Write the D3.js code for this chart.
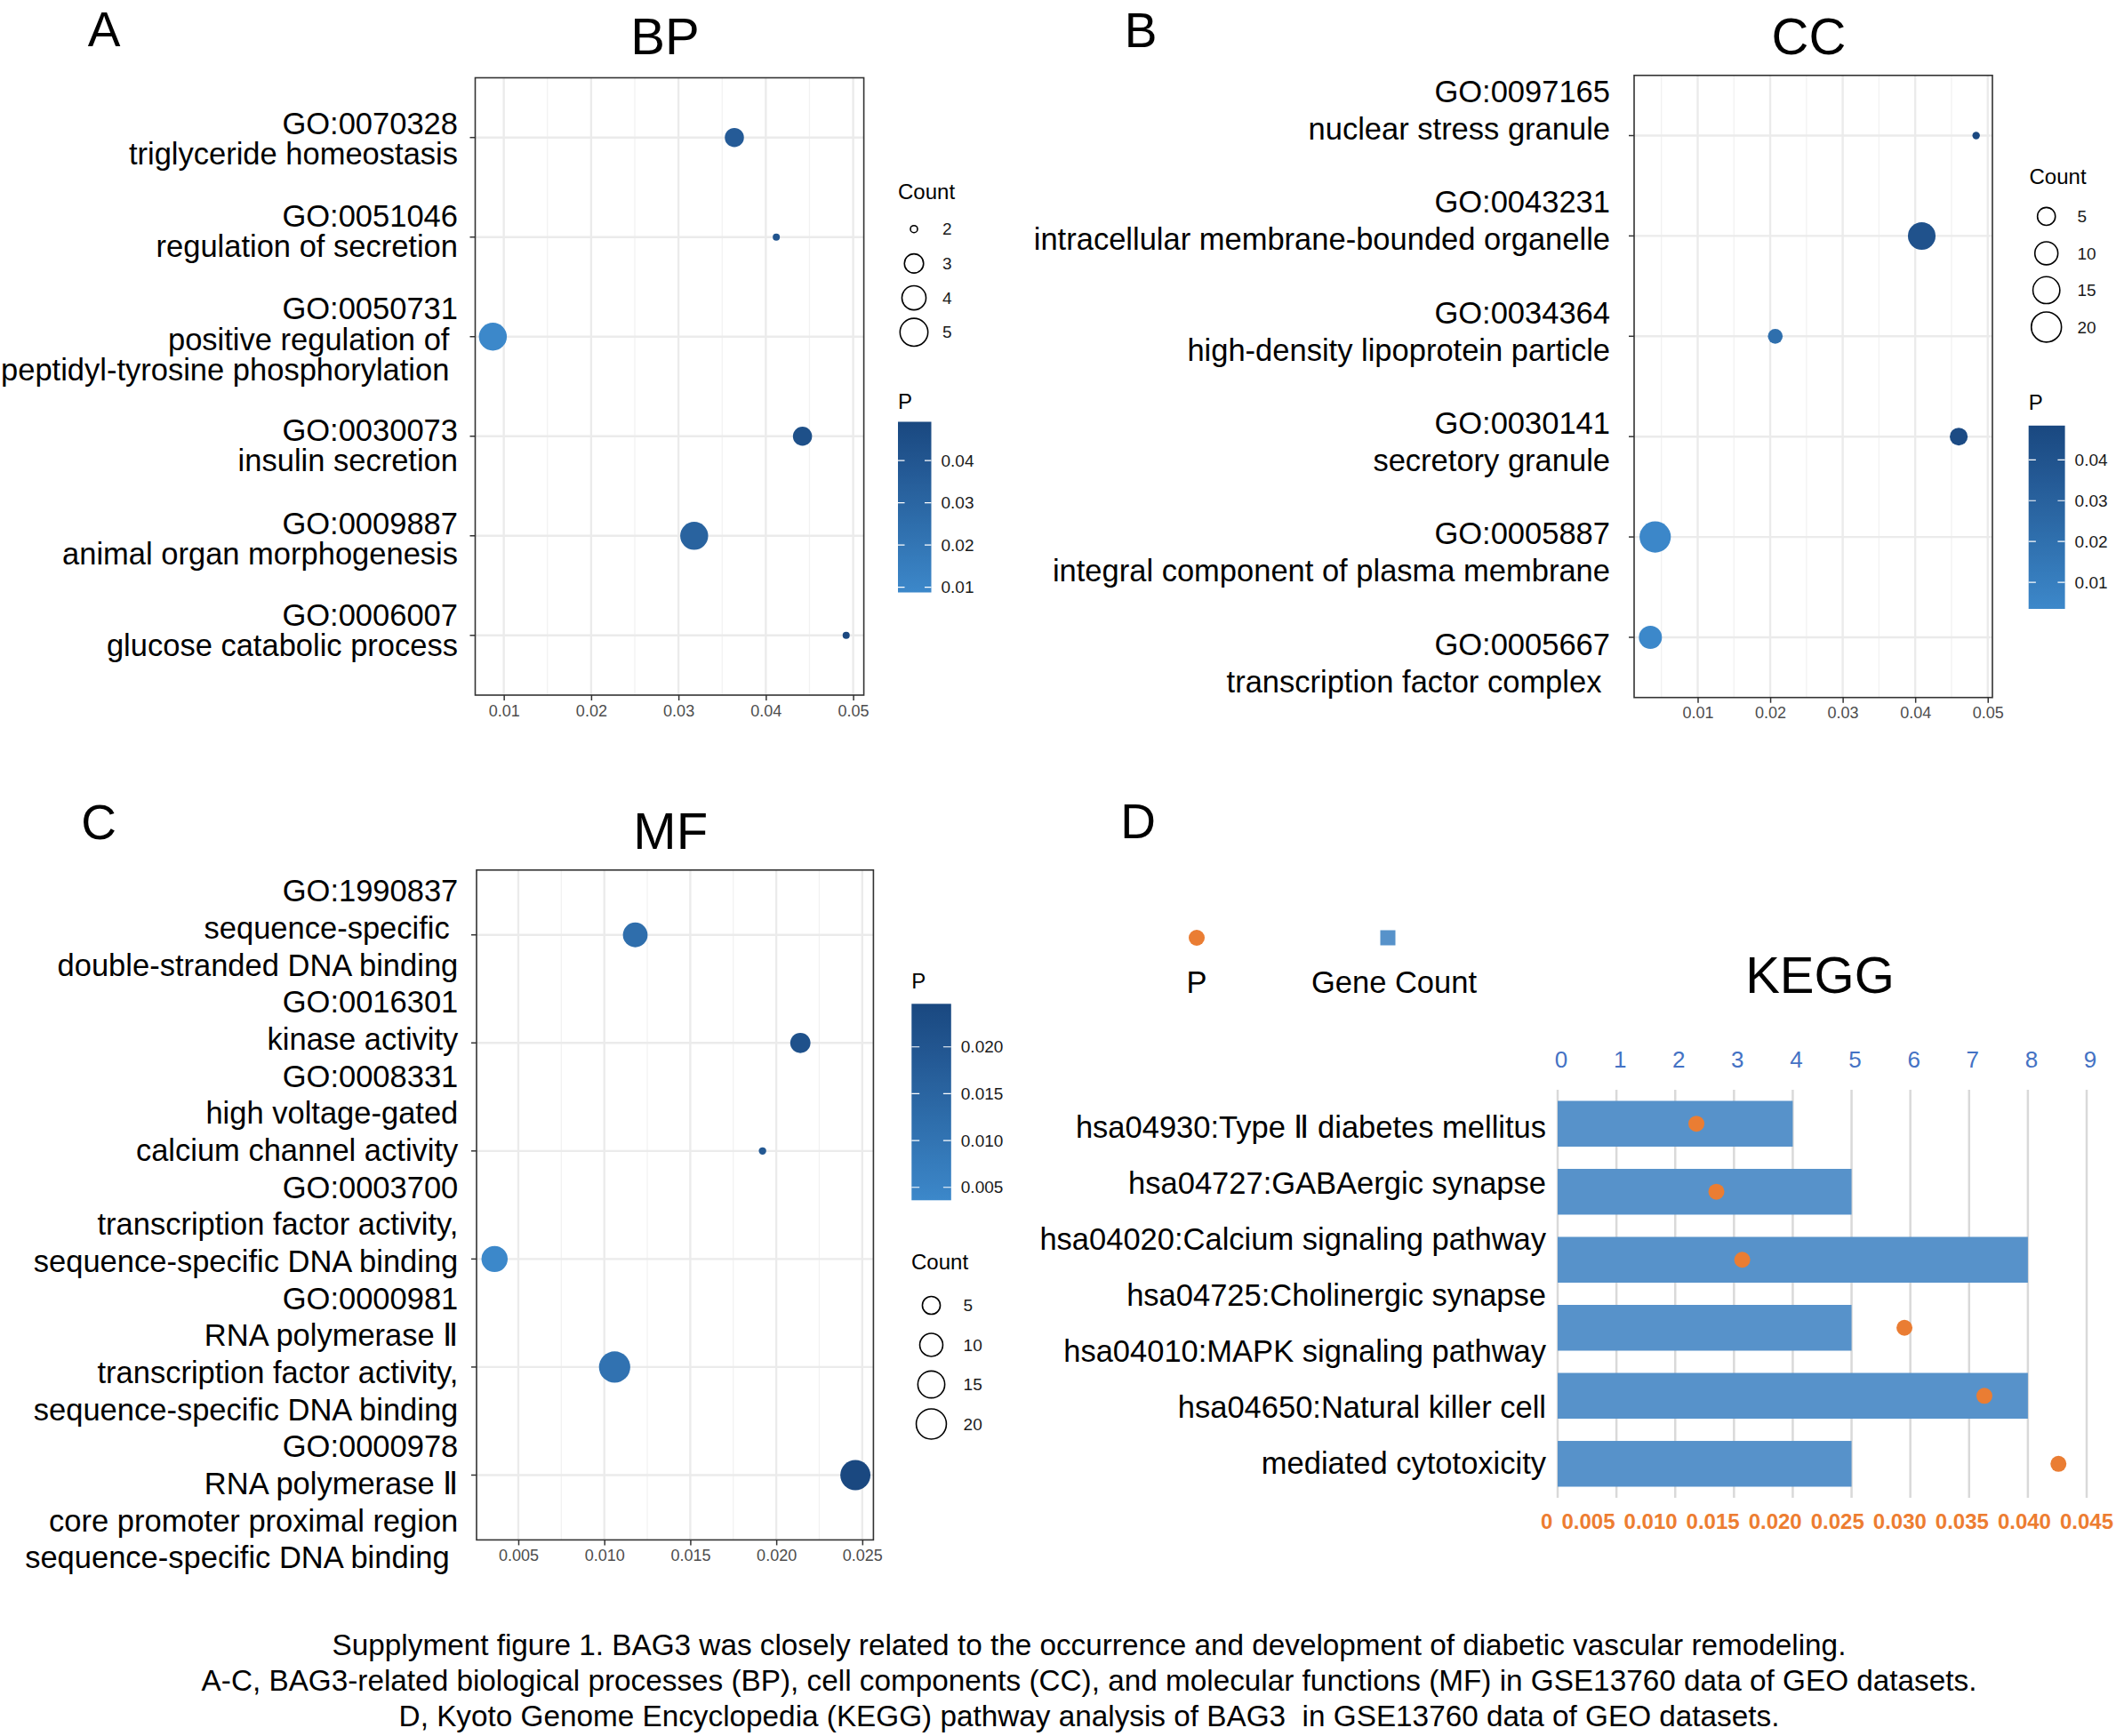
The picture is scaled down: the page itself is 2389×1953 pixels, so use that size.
<!DOCTYPE html>
<html>
<head>
<meta charset="utf-8">
<script src="https://cdn.jsdelivr.net/npm/d3@7"></script>
<style>
  body { margin: 0; background: #fff; }
  text { font-family: "Liberation Sans", Arial, Helvetica, sans-serif; }
</style>
</head>
<body>
<svg id="fig" width="2389" height="1953"></svg>
<script>
// ---------------- data ----------------
const bpLabels = [
  ["GO:0070328", "triglyceride homeostasis"],
  ["GO:0051046", "regulation of secretion"],
  ["GO:0050731", "positive regulation of ", "peptidyl-tyrosine phosphorylation "],
  ["GO:0030073", "insulin secretion"],
  ["GO:0009887", "animal organ morphogenesis"],
  ["GO:0006007", "glucose catabolic process"]
];
const bpP = [0.0364, 0.0412, 0.00875, 0.0442, 0.0318, 0.0492];
const bpCount = [3, 2, 5, 3, 5, 2];

const ccLabels = [
  ["GO:0097165", "nuclear stress granule"],
  ["GO:0043231", "intracellular membrane-bounded organelle"],
  ["GO:0034364", "high-density lipoprotein particle"],
  ["GO:0030141", "secretory granule"],
  ["GO:0005887", "integral component of plasma membrane"],
  ["GO:0005667", "transcription factor complex "]
];
const ccP = [0.0484, 0.0409, 0.0207, 0.046, 0.00414, 0.00348];
const ccCount = [1, 16, 3, 5, 22, 10];

const mfLabels = [
  ["GO:1990837", "sequence-specific ", "double-stranded DNA binding"],
  ["GO:0016301", "kinase activity"],
  ["GO:0008331", "high voltage-gated", "calcium channel activity"],
  ["GO:0003700", "transcription factor activity,", "sequence-specific DNA binding"],
  ["GO:0000981", "RNA polymerase \u2161", "transcription factor activity,", "sequence-specific DNA binding"],
  ["GO:0000978", "RNA polymerase \u2161", "core promoter proximal region", "sequence-specific DNA binding "]
];
const mfP = [0.0118, 0.0214, 0.0192, 0.00362, 0.0106, 0.0246];
const mfCount = [12, 7, 1, 14, 22, 20];

const keggPathways = [
  "hsa04930:Type \u2161 diabetes mellitus",
  "hsa04727:GABAergic synapse",
  "hsa04020:Calcium signaling pathway",
  "hsa04725:Cholinergic synapse",
  "hsa04010:MAPK signaling pathway",
  "hsa04650:Natural killer cell mediated cytotoxicity"
];
// axis text as it is wrapped in the figure (7 lines for 6 bars)
const keggAxisLines = [
  "hsa04930:Type \u2161 diabetes mellitus",
  "hsa04727:GABAergic synapse",
  "hsa04020:Calcium signaling pathway",
  "hsa04725:Cholinergic synapse",
  "hsa04010:MAPK signaling pathway",
  "hsa04650:Natural killer cell",
  "mediated cytotoxicity"
];
const keggCount = [4, 5, 8, 5, 8, 5];
const keggP = [0.0118, 0.0135, 0.0157, 0.0295, 0.0363, 0.0426];

const caption = [
  "Supplyment figure 1. BAG3 was closely related to the occurrence and development of diabetic vascular remodeling.",
  "A-C, BAG3-related biological processes (BP), cell components (CC), and molecular functions (MF) in GSE13760 data of GEO datasets.",
  "D, Kyoto Genome Encyclopedia (KEGG) pathway analysis of BAG3  in GSE13760 data of GEO datasets."
];

// ---------------- setup ----------------
const svg = d3.select("#fig");
const LOW = "#3c88ca", HIGH = "#1a4880";
const FS = 34.5;

svg.append("rect").attr("width", 2389).attr("height", 1953).attr("fill", "#fff");

function dotPanel(cfg) {
  const g = svg.append("g");
  const n = cfg.labels.length;
  const ext = d3.extent(cfg.p);
  const pad = (ext[1] - ext[0]) * 0.05;
  const x = d3.scaleLinear().domain([ext[0] - pad, ext[1] + pad]).range([cfg.x0, cfg.x1]);
  const y = d3.scalePoint().domain(d3.range(n)).range([cfg.y0, cfg.y1]).padding(0.6);
  const col = d3.scaleLinear().domain(ext).range([LOW, HIGH]).interpolate(d3.interpolateLab);
  const cExt = d3.extent(cfg.count);
  const rs = d3.scaleLinear().domain([0, 1]).range([cfg.rMin, cfg.rMax]);
  const rad = c => rs(Math.sqrt((c - cExt[0]) / (cExt[1] - cExt[0])));

  // grid
  const major = x.ticks(5);
  const step = major[1] - major[0];
  const minor = d3.range(major[0] - step / 2, major[major.length - 1] + step, step)
    .filter(v => v > x.domain()[0] && v < x.domain()[1]);
  g.selectAll(".minor").data(minor).join("line")
    .attr("x1", d => x(d)).attr("x2", d => x(d))
    .attr("y1", cfg.y0).attr("y2", cfg.y1)
    .attr("stroke", "#f2f2f2").attr("stroke-width", 1.3);
  g.selectAll(".major").data(major).join("line")
    .attr("x1", d => x(d)).attr("x2", d => x(d))
    .attr("y1", cfg.y0).attr("y2", cfg.y1)
    .attr("stroke", "#ebebeb").attr("stroke-width", 2.4);
  g.selectAll(".row").data(d3.range(n)).join("line")
    .attr("x1", cfg.x0).attr("x2", cfg.x1)
    .attr("y1", d => y(d)).attr("y2", d => y(d))
    .attr("stroke", "#ebebeb").attr("stroke-width", 2.4);

  // points
  g.selectAll(".pt").data(d3.range(n)).join("circle")
    .attr("cx", i => x(cfg.p[i])).attr("cy", i => y(i))
    .attr("r", i => rad(cfg.count[i]))
    .attr("fill", i => col(cfg.p[i]));

  g.append("rect")
    .attr("x", cfg.x0).attr("y", cfg.y0)
    .attr("width", cfg.x1 - cfg.x0).attr("height", cfg.y1 - cfg.y0)
    .attr("fill", "none").attr("stroke", "#333").attr("stroke-width", 1.6);

  // x axis
  const ax = g.append("g").attr("transform", `translate(0,${cfg.y1})`)
    .call(d3.axisBottom(x).ticks(5).tickSize(6).tickPadding(5));
  ax.select(".domain").remove();
  ax.selectAll("line").attr("stroke", "#333").attr("stroke-width", 1.5);
  ax.selectAll("text").attr("font-size", 18).attr("fill", "#4d4d4d")
    .attr("font-family", "Liberation Sans, Arial, sans-serif");

  // y ticks
  g.selectAll(".yt").data(d3.range(n)).join("line")
    .attr("x1", cfg.x0 - 6).attr("x2", cfg.x0)
    .attr("y1", d => y(d)).attr("y2", d => y(d))
    .attr("stroke", "#333").attr("stroke-width", 1.5);

  // y labels
  const lx = cfg.x0 - cfg.labelGap;
  const lines = [];
  if (cfg.stack) {
    const flat = cfg.labels.flat();
    const a = cfg.y0 + cfg.stack[0], b = cfg.y1 + cfg.stack[1];
    flat.forEach((t, j) => lines.push({ t, y: a + (b - a) * j / (flat.length - 1) }));
  } else {
    cfg.labels.forEach((ls, i) => {
      const nudge = cfg.nudge ? cfg.nudge[i] : 0;
      const cy = y(i) + cfg.spread * (i - (n - 1) / 2) + nudge;
      ls.forEach((t, j) => lines.push({ t, y: cy + (j - (ls.length - 1) / 2) * cfg.lh }));
    });
  }
  g.selectAll(".yl").data(lines).join("text")
    .attr("x", lx).attr("y", d => d.y).attr("dy", "0.35em")
    .attr("text-anchor", "end").attr("font-size", FS).attr("fill", "#000")
    .style("white-space", "pre")
    .text(d => d.t);

  // title + panel letter
  g.append("text").attr("x", (cfg.x0 + cfg.x1) / 2 - 5).attr("y", cfg.titleY)
    .attr("text-anchor", "middle").attr("font-size", 58).text(cfg.title);
  g.append("text").attr("x", cfg.letter[0]).attr("y", cfg.letter[1])
    .attr("text-anchor", "middle").attr("font-size", 55).text(cfg.letterText);

  // colour bar legend
  const cb = cfg.cbar;
  const gid = "grad" + cfg.title;
  const grad = svg.append("defs").append("linearGradient").attr("id", gid)
    .attr("x1", 0).attr("x2", 0).attr("y1", 1).attr("y2", 0);
  grad.selectAll("stop").data(d3.range(11)).join("stop")
    .attr("offset", d => d / 10)
    .attr("stop-color", d => col(ext[0] + (ext[1] - ext[0]) * d / 10));
  const cy = d3.scaleLinear().domain(ext).range([cb.y1, cb.y0]);
  g.append("text").attr("x", cb.x0).attr("y", cb.titleY).attr("dy", "0.35em")
    .attr("font-size", 24).text("P");
  g.append("rect").attr("x", cb.x0).attr("y", cb.y0)
    .attr("width", cb.x1 - cb.x0).attr("height", cb.y1 - cb.y0)
    .attr("fill", `url(#${gid})`);
  const cTicks = cy.ticks(4).filter(v => v >= ext[0] && v <= ext[1]);
  const cFmt = cy.tickFormat(4);
  const bw = (cb.x1 - cb.x0) / 5;
  g.selectAll(".cbt").data(cTicks).join("path")
    .attr("d", v => `M${cb.x0},${cy(v)}h${bw}M${cb.x1 - bw},${cy(v)}h${bw}`)
    .attr("stroke", "#fff").attr("stroke-width", 1.2);
  g.selectAll(".cbl").data(cTicks).join("text")
    .attr("x", cb.x1 + 11).attr("y", v => cy(v)).attr("dy", "0.35em")
    .attr("font-size", 19).attr("fill", "#1a1a1a").text(cFmt);

  // size legend
  const sl = cfg.sizeLeg;
  const breaks = d3.ticks(cExt[0], cExt[1], 4);
  g.append("text").attr("x", sl.titleX).attr("y", sl.titleY).attr("dy", "0.35em")
    .attr("font-size", 24).text("Count");
  g.selectAll(".sk").data(breaks).join("circle")
    .attr("cx", sl.keyX).attr("cy", (d, i) => sl.keyY + i * sl.keyStep)
    .attr("r", d => rad(d))
    .attr("fill", "none").attr("stroke", "#000").attr("stroke-width", 1.6);
  g.selectAll(".skl").data(breaks).join("text")
    .attr("x", sl.labelX).attr("y", (d, i) => sl.keyY + i * sl.keyStep).attr("dy", "0.35em")
    .attr("font-size", 19).attr("fill", "#1a1a1a").text(d => d);
}

dotPanel({
  labels: bpLabels, p: bpP, count: bpCount, title: "BP", letterText: "A",
  x0: 534.5, x1: 971.6, y0: 87.5, y1: 782, rMin: 4, rMax: 15.7,
  labelGap: 19.5, lh: 34.5, spread: 0, nudge: [1, -7, 3, 10, 3, -6],
  titleY: 61, letter: [117, 52],
  cbar: { x0: 1010, x1: 1047.5, y0: 474.5, y1: 666.5, titleY: 452 },
  sizeLeg: { titleX: 1010, titleY: 216, keyX: 1028, keyY: 257.7, keyStep: 38.7, labelX: 1060 }
});

dotPanel({
  labels: ccLabels, p: ccP, count: ccCount, title: "CC", letterText: "B",
  x0: 1838, x1: 2241, y0: 84.8, y1: 784.7, rMin: 4.2, rMax: 17.6,
  labelGap: 27, lh: 42, spread: 11.4, titleY: 61, letter: [1283, 53],
  cbar: { x0: 2281.7, x1: 2322.6, y0: 478.8, y1: 685, titleY: 453 },
  sizeLeg: { titleX: 2282.5, titleY: 198.8, keyX: 2301.7, keyY: 243.4, keyStep: 41.5, labelX: 2336.5 }
});

dotPanel({
  labels: mfLabels, p: mfP, count: mfCount, title: "MF", letterText: "C",
  x0: 536, x1: 982.4, y0: 978.8, y1: 1732.4, rMin: 4.2, rMax: 17.6,
  labelGap: 20.7, stack: [23.5, 20], titleY: 955, letter: [111, 944],
  cbar: { x0: 1025.3, x1: 1069.8, y0: 1129.3, y1: 1350.3, titleY: 1103.4 },
  sizeLeg: { titleX: 1025, titleY: 1419.7, keyX: 1047.5, keyY: 1468.5, keyStep: 44.5, labelX: 1083.6 }
});

// ---------------- KEGG (panel D) ----------------
(function () {
  const g = svg.append("g");
  const x0 = 1752, x1 = 2347, yTop = 1226, yBot = 1685;
  const xCount = d3.scaleLinear().domain([0, 9]).range([x0, x1]);
  const xP = d3.scaleLinear().domain([0, 0.045]).range([x0, x1]);
  const y = d3.scaleBand().domain(d3.range(keggPathways.length)).range([yTop, yBot])
    .paddingInner(0.327).paddingOuter(0.163);

  g.selectAll(".grid").data(xCount.ticks(10)).join("line")
    .attr("x1", d => xCount(d)).attr("x2", d => xCount(d))
    .attr("y1", yTop).attr("y2", yBot)
    .attr("stroke", "#d9d9d9").attr("stroke-width", 2.5);

  g.selectAll(".bar").data(d3.range(keggPathways.length)).join("rect")
    .attr("x", xCount(0)).attr("y", i => y(i))
    .attr("width", i => xCount(keggCount[i]) - xCount(0))
    .attr("height", y.bandwidth())
    .attr("fill", "#5792ca");

  g.selectAll(".dot").data(d3.range(keggPathways.length)).join("circle")
    .attr("cx", i => xP(keggP[i])).attr("cy", i => y(i) + y.bandwidth() / 2)
    .attr("r", 9).attr("fill", "#ea7d33");

  // top axis (gene count)
  g.selectAll(".tl").data(xCount.ticks(10)).join("text")
    .attr("x", d => xCount(d) + 4).attr("y", 1192).attr("dy", "0.35em")
    .attr("text-anchor", "middle").attr("font-size", 26).attr("fill", "#4472c4")
    .text(d => d);

  // bottom axis (P), labels pushed apart like the original
  const fmt = d => d === 0 ? "0" : d3.format(".3f")(d);
  const bl = g.selectAll(".bl").data(xP.ticks(10)).join("text")
    .attr("x", d => xP(d)).attr("y", 1712).attr("dy", "0.35em")
    .attr("text-anchor", "middle").attr("font-size", 24).attr("font-weight", "bold")
    .attr("fill", "#ed7d31").text(fmt);
  const nodes = bl.nodes();
  let prevLeft = Infinity;
  for (let i = nodes.length - 1; i >= 0; i--) {
    const w = nodes[i].getComputedTextLength();
    let cx = +nodes[i].getAttribute("x");
    if (cx + w / 2 + 10 > prevLeft) cx = prevLeft - 10 - w / 2;
    nodes[i].setAttribute("x", cx);
    prevLeft = cx - w / 2;
  }

  // category text, wrapped over 7 lines
  const a = y(0) + y.bandwidth() / 2 + 4;
  const b = y(keggPathways.length - 1) + y.bandwidth() / 2 - 1;
  g.selectAll(".cl").data(keggAxisLines).join("text")
    .attr("x", 1739).attr("y", (d, j) => a + (b - a) * j / (keggAxisLines.length - 1))
    .attr("dy", "0.35em").attr("text-anchor", "end").attr("font-size", FS)
    .text(d => d);

  // legend
  g.append("circle").attr("cx", 1346).attr("cy", 1055).attr("r", 9).attr("fill", "#ea7d33");
  g.append("text").attr("x", 1346).attr("y", 1105).attr("dy", "0.35em")
    .attr("text-anchor", "middle").attr("font-size", FS).text("P");
  g.append("rect").attr("x", 1552.5).attr("y", 1046.5).attr("width", 17).attr("height", 17)
    .attr("fill", "#5792ca");
  g.append("text").attr("x", 1568).attr("y", 1105).attr("dy", "0.35em")
    .attr("text-anchor", "middle").attr("font-size", FS).text("Gene Count");

  g.append("text").attr("x", 2047).attr("y", 1097).attr("dy", "0.35em")
    .attr("text-anchor", "middle").attr("font-size", 58).text("KEGG");
  g.append("text").attr("x", 1280).attr("y", 943)
    .attr("text-anchor", "middle").attr("font-size", 55).text("D");
})();

// ---------------- caption ----------------
svg.selectAll(".cap").data(caption).join("text")
  .attr("x", 1225).attr("y", (d, i) => 1850 + i * 40).attr("dy", "0.35em")
  .attr("text-anchor", "middle").attr("font-size", 33.3)
  .style("white-space", "pre")
  .text(d => d);
</script>
</body>
</html>
